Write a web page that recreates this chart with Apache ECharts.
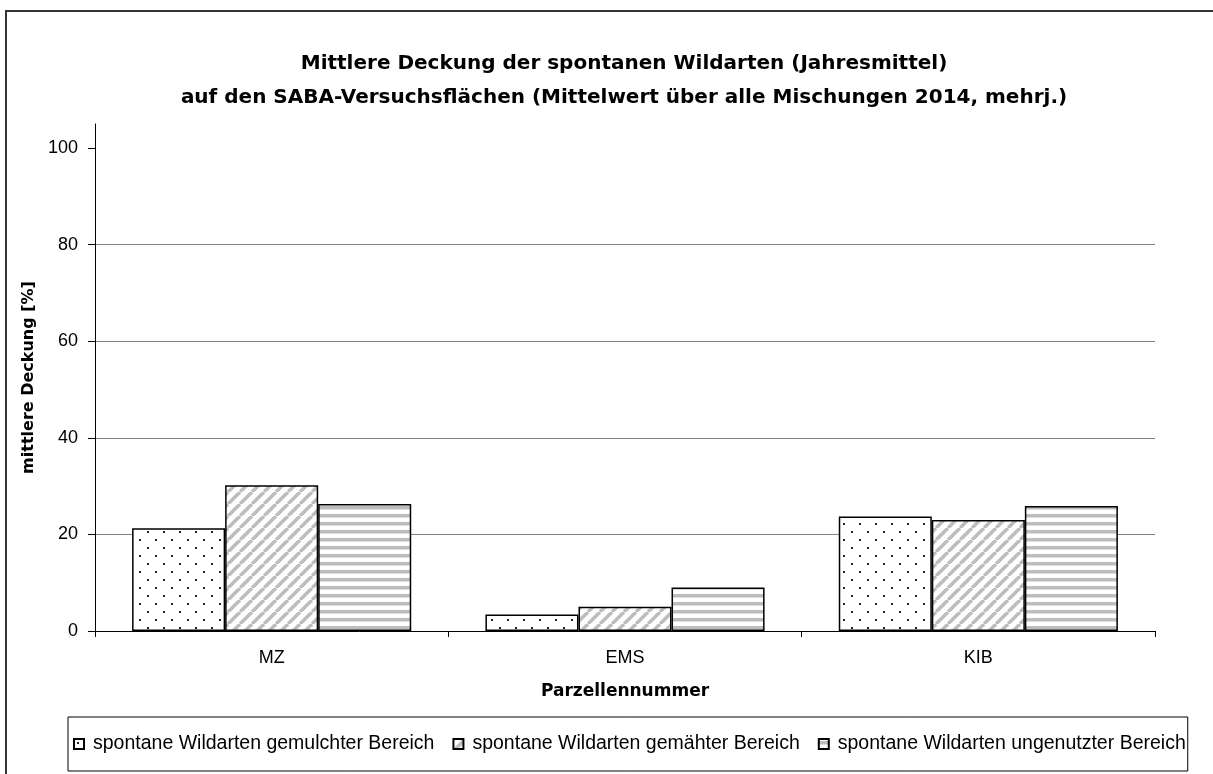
<!DOCTYPE html>
<html>
<head>
<meta charset="utf-8">
<script src="https://cdn.jsdelivr.net/npm/echarts@6/dist/echarts.min.js"></script>
<style>
  html, body { margin: 0; padding: 0; background: #fff; }
  #chart { width: 1213px; height: 774px; }
</style>
</head>
<body>
<div id="chart"></div>
<script>
var categories = ['MZ', 'EMS', 'KIB'];
var seriesNames = [
    'spontane Wildarten gemulchter Bereich',
    'spontane Wildarten gemähter Bereich',
    'spontane Wildarten ungenutzter Bereich'
];
var gemulcht = [21.3, 3.4, 23.7];
var gemaeht = [30.2, 5.0, 23.0];
var ungenutzt = [26.3, 9.0, 25.9];
var yTicks = [0, 20, 40, 60, 80, 100];

// Füllmuster wie im Excel-Diagramm
function dotPattern() {
    var c = document.createElement('canvas');
    c.width = 16; c.height = 16;
    var ctx = c.getContext('2d');
    ctx.fillStyle = '#fff';
    ctx.fillRect(0, 0, 16, 16);
    ctx.fillStyle = '#222';
    ctx.fillRect(3, 3, 2, 2);
    ctx.fillRect(11, 11, 2, 2);
    return c;
}
function diagPattern() {
    var c = document.createElement('canvas');
    c.width = 12; c.height = 12;
    var ctx = c.getContext('2d');
    ctx.fillStyle = '#fff';
    ctx.fillRect(0, 0, 12, 12);
    ctx.strokeStyle = '#bdbdbd';
    ctx.lineWidth = 3.5;
    for (var k = -12; k <= 24; k += 12) {
        ctx.beginPath();
        ctx.moveTo(k, 12);
        ctx.lineTo(k + 12, 0);
        ctx.stroke();
    }
    return c;
}
function horizPattern() {
    var c = document.createElement('canvas');
    c.width = 8; c.height = 8;
    var ctx = c.getContext('2d');
    ctx.fillStyle = '#fff';
    ctx.fillRect(0, 0, 8, 8);
    ctx.fillStyle = '#bdbdbd';
    ctx.fillRect(0, 2, 8, 3.5);
    return c;
}

var fills = [dotPattern(), diagPattern(), horizPattern()];
var values = [gemulcht, gemaeht, ungenutzt];

var series = [];
for (var i = 0; i < 3; i++) {
    series.push({
        name: seriesNames[i],
        type: 'bar',
        data: values[i],
        barGap: '0%',
        barCategoryGap: '21%',
        itemStyle: {
            color: { image: fills[i], repeat: 'repeat' },
            borderColor: '#000',
            borderWidth: 1.5
        }
    });
}

var boldFont = 'DejaVu Sans, Liberation Sans, Arial, sans-serif';
var myChart = echarts.init(document.getElementById('chart'));
myChart.setOption({
    backgroundColor: '#fff',
    animation: false,
    textStyle: { fontFamily: 'Liberation Sans, Arial, sans-serif' },
    title: {
        text: 'Mittlere Deckung der spontanen Wildarten (Jahresmittel)\nauf den SABA-Versuchsflächen (Mittelwert über alle Mischungen 2014, mehrj.)',
        left: 619,
        textAlign: 'center',
        top: 42,
        textStyle: {
            fontSize: 20,
            fontWeight: 'bold',
            color: '#000',
            lineHeight: 34,
            fontFamily: boldFont
        }
    },
    graphic: [{
        type: 'rect',
        shape: { x: 6, y: 11, width: 1230, height: 800 },
        style: { fill: 'none', stroke: '#333', lineWidth: 2 },
        silent: true
    }],
    legend: {
        data: seriesNames,
        left: 68,
        top: 717,
        width: 1130,
        padding: [17, 2, 17, 5],
        borderColor: '#000',
        borderWidth: 1,
        itemWidth: 10,
        itemHeight: 10,
        itemGap: 18,
        icon: 'rect',
        textStyle: { fontSize: 19.5, color: '#000', padding: [0, 0, 0, 4] }
    },
    grid: {
        left: 95,
        right: 58,
        top: 124,
        bottom: 143,
        containLabel: false
    },
    xAxis: {
        type: 'category',
        data: categories,
        name: 'Parzellennummer',
        nameLocation: 'middle',
        nameGap: 52,
        nameTextStyle: { fontSize: 17, fontWeight: 'bold', color: '#000', fontFamily: boldFont },
        axisLine: { lineStyle: { color: '#000', width: 1 } },
        axisTick: { show: true, length: 6, lineStyle: { color: '#000' } },
        axisLabel: { fontSize: 18, color: '#000', margin: 18 },
        splitLine: { show: false }
    },
    yAxis: {
        type: 'value',
        min: 0,
        max: 105,
        interval: 20,
        name: 'mittlere Deckung [%]',
        nameLocation: 'middle',
        nameGap: 55,
        nameTextStyle: { fontSize: 16, fontWeight: 'bold', color: '#000', fontFamily: boldFont },
        axisLine: { show: true, lineStyle: { color: '#000', width: 1 } },
        axisTick: { show: true, length: 7, lineStyle: { color: '#000' }, customValues: yTicks },
        axisLabel: { fontSize: 18, color: '#000', margin: 17, customValues: yTicks },
        splitLine: { show: true, showMinLine: false, showMaxLine: false, lineStyle: { color: '#808080', width: 1 } }
    },
    series: series
});
</script>
</body>
</html>
